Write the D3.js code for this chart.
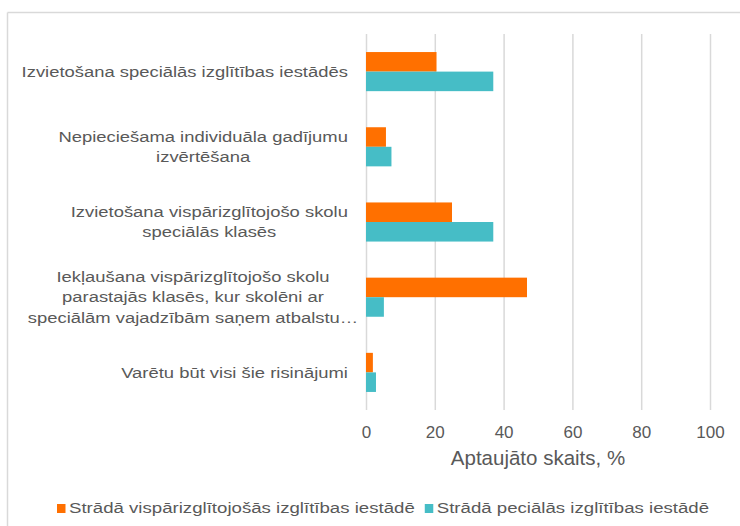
<!DOCTYPE html>
<html>
<head>
<meta charset="utf-8">
<script src="https://cdn.jsdelivr.net/npm/d3@7"></script>
<style>
  body { margin: 0; background: #fff; }
  text { font-family: "Liberation Sans", Arial, sans-serif; fill: #595959; }
</style>
</head>
<body>
<svg class="chart" width="740" height="526"></svg>
<script>
// data
const categories = [
  "Izvietošana speciālās izglītības iestādēs",
  "Nepieciešama individuāla gadījumu\nizvērtēšana",
  "Izvietošana vispārizglītojošo skolu\nspeciālās klasēs",
  "Iekļaušana vispārizglītojošo skolu\nparastajās klasēs, kur skolēni ar\nspeciālām vajadzībām saņem atbalstu…",
  "Varētu būt visi šie risinājumi"
];
const seriesNames = [
  "Strādā vispārizglītojošās izglītības iestādē",
  "Strādā peciālās izglītības iestādē"
];
const general = [20.5, 5.8, 25.0, 46.8, 2.0];
const special = [37.0, 7.4, 37.0, 5.2, 2.9];
const xTicks = [0, 20, 40, 60, 80, 100];
const xTitle = "Aptaujāto skaits, %";

const colors = ["#FF7000", "#46BDC6"];

const svg = d3.select(".chart");

// the labels in the picture look a bit stretched sideways
const stretch = 1.27;
const legendStretch = 1.285;

// frame (only top + left edges visible in the crop)
svg.append("line").attr("x1", 7.5).attr("x2", 740).attr("y1", 12.5).attr("y2", 12.5)
  .attr("stroke", "#D9D9D9").attr("stroke-width", 1.5);
svg.append("line").attr("x1", 7.5).attr("x2", 7.5).attr("y1", 12.5).attr("y2", 526)
  .attr("stroke", "#D9D9D9").attr("stroke-width", 1.5);

const plotLeft = 366, plotRight = 710, plotTop = 34, plotBottom = 410;

const x = d3.scaleLinear().domain([0, 100]).range([plotLeft, plotRight]);
const y = d3.scaleBand().domain(categories).range([plotTop, plotBottom])
  .paddingInner(0.48).paddingOuter(0.24);
const ySub = d3.scaleBand().domain([0, 1]).range([0, y.bandwidth()]);

// gridlines + axis
const axis = svg.append("g")
  .attr("transform", `translate(0, ${plotBottom})`)
  .call(d3.axisBottom(x).tickValues(xTicks).tickSize(-(plotBottom - plotTop)).tickPadding(15.5));
axis.select(".domain").remove();
axis.selectAll(".tick line").attr("stroke", "#D9D9D9").attr("stroke-width", 1.5);
axis.selectAll(".tick text").attr("font-size", 17).attr("fill", "#595959")
  .style("font-family", "Liberation Sans, Arial, sans-serif");

// bars
const series = [general, special];
series.forEach((vals, s) => {
  svg.append("g").selectAll("rect")
    .data(vals)
    .join("rect")
    .attr("x", x(0))
    .attr("y", (d, i) => y(categories[i]) + ySub(s))
    .attr("width", d => x(d) - x(0))
    .attr("height", ySub.bandwidth())
    .attr("fill", colors[s]);
});

// category labels (wrapped lines centred in a right-aligned block,
// long truncated lines spill over to the right like in Excel)
const labelRight = 348;
const maxBlock = 310;
const lineH = 20.5;
categories.forEach(cat => {
  const lines = cat.split("\n");
  const cy = y(cat) + y.bandwidth() / 2;
  const g = svg.append("g");
  const texts = lines.map((ln, i) =>
    g.append("text")
      .attr("font-size", 14.5)
      .attr("y", (i - (lines.length - 1) / 2) * lineH)
      .attr("dy", "0.36em")
      .attr("text-anchor", "middle")
      .text(ln)
  );
  let maxW = d3.max(texts, t => t.node().getComputedTextLength()) * stretch;
  if (lines.length > 1) maxW = Math.min(maxW, maxBlock);
  g.attr("transform", `translate(${labelRight - maxW / 2}, ${cy}) scale(${stretch}, 1)`);
});

// axis title
svg.append("text")
  .attr("x", (plotLeft + plotRight) / 2)
  .attr("y", 465)
  .attr("text-anchor", "middle")
  .attr("font-size", 20.5)
  .text(xTitle);

// legend
const legend = svg.append("g");
let lx = 57;
seriesNames.forEach((name, s) => {
  legend.append("rect").attr("x", lx).attr("y", 504).attr("width", 8.5).attr("height", 9)
    .attr("fill", colors[s]);
  const t = legend.append("text")
    .attr("transform", `translate(${lx + 12}, 513.3) scale(${legendStretch}, 1)`)
    .attr("font-size", 14.5).text(name);
  lx += 12 + t.node().getComputedTextLength() * legendStretch + 10;
});
</script>
</body>
</html>
